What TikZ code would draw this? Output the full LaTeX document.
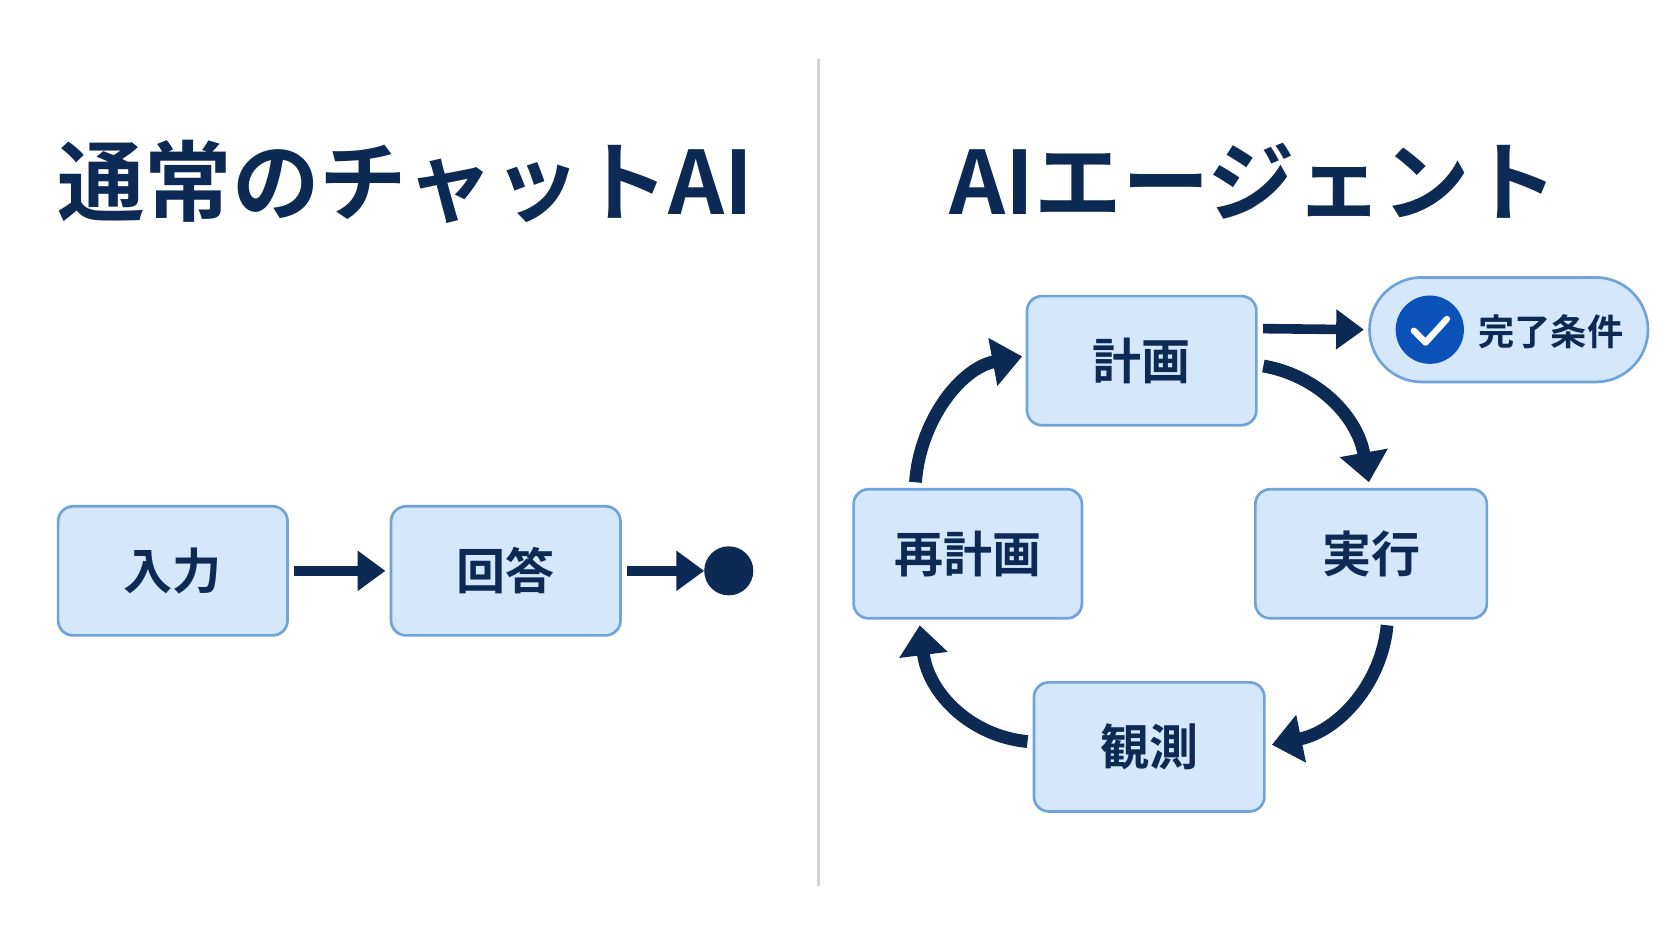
\documentclass[tikz,border=0pt]{standalone}
\usepackage{fontspec}
\setmainfont{Noto Sans CJK JP}[BoldFont={* Bold}]
\usetikzlibrary{arrows.meta}
\definecolor{navy}{HTML}{0D2A55}
\definecolor{bfill}{HTML}{D5E7FA}
\definecolor{bdraw}{HTML}{6FA3DA}
\definecolor{chk}{HTML}{0A52B8}
\begin{document}
\begin{tikzpicture}[x=1pt,y=-1pt,
 box/.style={draw=bdraw,line width=2.5pt,fill=bfill,rounded corners=14pt,minimum width=215pt,minimum height=121pt,font=\fontsize{46}{50}\selectfont\bfseries,text=navy},
 title/.style={font=\fontsize{82}{90}\selectfont\bfseries,text=navy},
 arr/.style={navy,line width=9pt,-{Triangle[length=26pt,width=36pt]}},
 carr/.style={navy,line width=12pt,-{Triangle[length=28pt,width=44pt]}}]
\useasboundingbox (0,0) rectangle (1567,882);
\fill[white] (0,0) rectangle (1567,882);
\draw[gray!35,line width=3pt] (767,55) -- (767,830);
\node[title] (t1) at (380,170) {通常のチャットAI};
\node[title] (t2) at (1175,170) {AIエージェント};
\node[box] (in) at (162,535) {入力};
\node[box] (ans) at (474,535) {回答};
\fill[navy] (683,535) circle (23pt);
\coordinate (dot) at (660,535);
\draw[arr] (in.east) ++(5,0) -- ([xshift=-4pt]ans.west);
\draw[arr] (ans.east) ++(5,0) -- (dot);
\node[box] (plan) at (1070,338) {計画};
\node[box,minimum width=217pt] (exe) at (1285,519) {実行};
\node[box,minimum width=216pt] (obs) at (1077,700) {観測};
\node[box,minimum width=214pt] (rep) at (907,519) {再計画};
\node[draw=bdraw,line width=2.5pt,fill=bfill,rounded corners=49pt,minimum width=261pt,minimum height=98pt] (goal) at (1414,309) {};
\fill[chk] (1340,309) circle (32pt);
\draw[white,line width=6pt,line cap=round,line join=round] (1325,310) -- (1336,321) -- (1356,299);
\node[font=\fontsize{34}{38}\selectfont\bfseries,text=navy,anchor=west] (gl) at (1382,311) {完了条件};
\draw[arr] ([xshift=5pt]plan.east |- 0,308) -- ([xshift=-4pt]goal.west);
\draw[carr] (1184,343) .. controls (1235,352) and (1272,390) .. (1283,452);
\draw[carr] (1300,586) .. controls (1295,640) and (1255,685) .. (1192,698);
\draw[carr] (963,695) .. controls (910,690) and (870,650) .. (862,586);
\draw[carr] (858,452) .. controls (862,395) and (900,345) .. (958,334);
\end{tikzpicture}
\end{document}
